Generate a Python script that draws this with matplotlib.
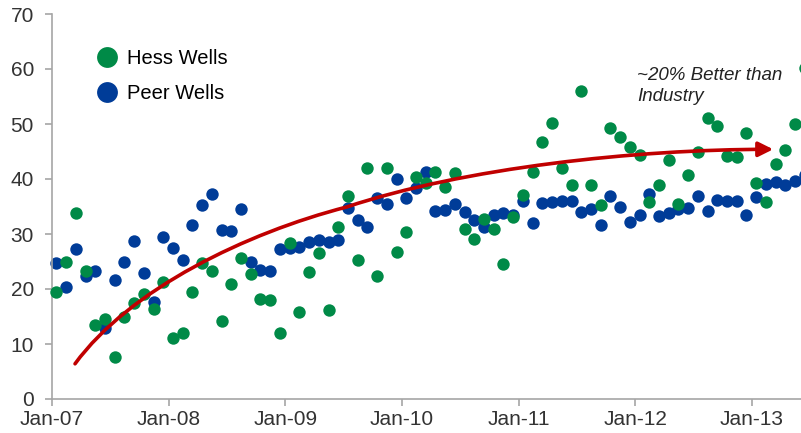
import matplotlib.pyplot as plt
import numpy as np
from matplotlib.lines import Line2D
from matplotlib.path import Path
from matplotlib.patches import FancyArrowPatch

plt.rcParams['font.family'] = ['Liberation Sans', 'DejaVu Sans']

# monthly values, first point = Jan-07
hess = [19.5, 25.0, 33.8, 23.3, 13.5, 14.5, 7.6, 14.9, 17.4, 19.1, 16.4, 21.3,
        11.1, 12.0, 19.5, 24.7, 23.3, 14.2, 21.0, 25.6, 22.7, 18.2, 18.0, 12.0,
        28.4, 15.9, 23.1, 26.5, 16.2, 31.3, 36.9, 25.3, 42.0, 22.4, 42.0, 26.7,
        30.4, 40.4, 39.3, 41.3, 38.5, 41.1, 30.9, 29.1, 32.7, 30.9, 24.5, 33.1,
        37.1, 41.3, 46.7, 50.2, 42.0, 38.9, 56.0, 38.9, 35.3, 49.3, 47.6, 45.8,
        44.4, 35.8, 38.9, 43.5, 35.5, 40.7, 44.9, 51.1, 49.6, 44.2, 44.0, 48.4,
        39.3, 35.8, 42.8, 45.2, 50.0, 60.2]
peer = [24.7, 20.4, 27.3, 22.4, 23.3, 12.9, 21.6, 25.0, 28.8, 23.0, 17.7, 29.4,
        27.4, 25.3, 31.6, 35.3, 37.3, 30.7, 30.5, 34.5, 24.9, 23.5, 23.3, 27.3,
        27.5, 27.7, 28.5, 28.9, 28.5, 28.9, 34.7, 32.5, 31.3, 36.5, 35.5, 40.0,
        36.5, 38.4, 41.2, 34.2, 34.3, 35.4, 34.0, 32.6, 31.2, 33.4, 33.8, 33.5,
        36.0, 32.0, 35.7, 35.8, 36.0, 36.0, 34.0, 34.5, 31.7, 37.0, 34.9, 32.2,
        33.5, 37.2, 33.2, 33.8, 34.5, 34.8, 36.9, 34.2, 36.2, 36.0, 36.0, 33.4,
        36.8, 39.1, 39.5, 38.9, 39.6, 40.7]
year_labels = ['Jan-07', 'Jan-08', 'Jan-09', 'Jan-10', 'Jan-11', 'Jan-12', 'Jan-13']

# trend arrow drawn as two bezier segments (months from Jan-07, value)
trend_pts = [(2.37, 6.4), (8.0, 20.0), (20.0, 30.2), (30.3, 34.9),
             (42.3, 42.0), (60.0, 45.4), (74.2, 45.4)]

green = '#008A47'
blue = '#003C98'
red = '#C00000'

months = np.arange(len(hess)) + 0.45

fig = plt.figure(figsize=(8.01, 4.33), dpi=100)
ax = fig.add_axes([52 / 801, 34 / 433, 749 / 801, 385 / 433])

ax.scatter(months, peer, s=80, color=blue, linewidths=0, clip_on=False, zorder=2)
ax.scatter(months, hess, s=80, color=green, linewidths=0, clip_on=False, zorder=3)

codes = [Path.MOVETO] + [Path.CURVE4] * 6
arrow = FancyArrowPatch(path=Path(trend_pts, codes), arrowstyle='-|>', color=red,
                        lw=2.6, mutation_scale=22, shrinkA=0, shrinkB=0, zorder=4)
ax.add_patch(arrow)

ax.text(60.2, 60.3, '~20% Better than\nIndustry', fontsize=13.5, style='italic',
        ha='left', va='top', color='#222222', linespacing=1.3)

ax.set_xlim(0, 77.06)
ax.set_ylim(0, 70)
ax.set_xticks(np.arange(0, 73, 12))
ax.set_xticklabels(year_labels)
ax.set_yticks(range(0, 71, 10))

for s in ['top', 'right']:
    ax.spines[s].set_visible(False)
for s in ['left', 'bottom']:
    ax.spines[s].set_color('#A6A6A6')
    ax.spines[s].set_linewidth(1.2)
ax.tick_params(axis='both', colors='#A6A6A6', labelcolor='#333333', labelsize=15,
               length=5, width=1.2)
ax.tick_params(axis='x', pad=3)
ax.tick_params(axis='y', pad=8)

handles = [Line2D([], [], marker='o', ls='', color=green, markersize=15, mec='none'),
           Line2D([], [], marker='o', ls='', color=blue, markersize=15, mec='none')]
ax.legend(handles, ['Hess Wells', 'Peer Wells'], loc='upper left',
          bbox_to_anchor=(0.033, 0.934), frameon=False, fontsize=14.5,
          handletextpad=0.0, labelspacing=0.75, borderpad=0)

plt.savefig('out.png', dpi=100)
